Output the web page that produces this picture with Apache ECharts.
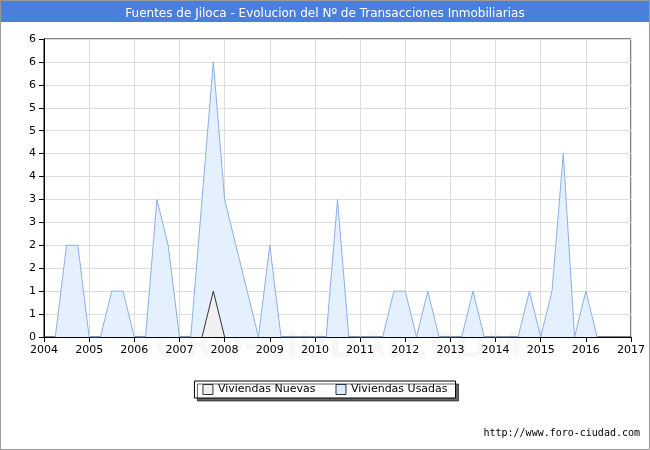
<!DOCTYPE html><html><head><meta charset="utf-8"><script src="https://cdn.jsdelivr.net/npm/echarts@6/dist/echarts.min.js"></script></head><body style="margin:0"><div id="c" style="width:650px;height:450px"></div><script>
const quarters=[2004.25,2004.5,2004.75,2005,2005.25,2005.5,2005.75,2006,2006.25,2006.5,2006.75,2007,2007.25,2007.5,2007.75,2008,2008.25,2008.5,2008.75,2009,2009.25,2009.5,2009.75,2010,2010.25,2010.5,2010.75,2011,2011.25,2011.5,2011.75,2012,2012.25,2012.5,2012.75,2013,2013.25,2013.5,2013.75,2014,2014.25,2014.5,2014.75,2015,2015.25,2015.5,2015.75,2016,2016.25];
const usadas=[0,2,2,0,0,1,1,0,0,3,2,0,0,3,6,3,2,1,0,2,0,0,0,0,0,3,0,0,0,0,1,1,0,1,0,0,0,1,0,0,0,0,1,0,1,4,0,1,0];
const nuevasQ=[2007.5,2007.75,2008];
const nuevas=[0,1,0];
const yLabels=['0','1','1','2','2','3','3','4','4','5','5','6','6','6'];
const c=echarts.init(document.getElementById('c'));
c.setOption({
backgroundColor:'#fff',
title:{text:'Fuentes de Jiloca - Evolucion del Nº de Transacciones Inmobiliarias',left:'center',top:3,textStyle:{color:'#fff',fontSize:12,fontWeight:'normal',fontFamily:'DejaVu Sans'}},
graphic:[{type:'rect',shape:{x:0,y:0,width:650,height:22},style:{fill:'#4a7fdc'},z:-1},
{type:'rect',shape:{x:0.5,y:0.5,width:649,height:449},style:{fill:'none',stroke:'#999'},z:-1},
{type:'text',left:130,top:330,style:{text:'FORO-CIUDAD.COM',fill:'rgba(0,0,0,0.03)',font:'bold 36px DejaVu Sans'}},
{type:'text',right:10,top:428,style:{text:'http://www.foro-ciudad.com',fill:'#000',font:'10px DejaVu Sans Mono'}}],
grid:{left:44,right:19,top:39,bottom:113,show:true,borderColor:'#000',borderWidth:1},
xAxis:{type:'value',min:2004,max:2017,interval:1,axisLine:{lineStyle:{color:'#000'}},axisTick:{show:true,lineStyle:{color:'#000'}},axisLabel:{color:'#000',fontSize:11,fontFamily:'DejaVu Sans',formatter:(v)=>String(v)},splitLine:{lineStyle:{color:'#ddd'}}},
yAxis:{type:'value',min:0,max:6.5,interval:0.5,axisLine:{show:true,lineStyle:{color:'#000'}},axisTick:{show:true,lineStyle:{color:'#000'}},axisLabel:{color:'#000',fontSize:11,fontFamily:'DejaVu Sans',formatter:(v)=>yLabels[Math.round(v*2)]},splitLine:{lineStyle:{color:'#ddd'}}},
legend:{bottom:52,left:'center',itemWidth:10,itemHeight:10,itemGap:20,padding:[3,8],borderColor:'#000',borderWidth:1,shadowColor:'rgba(0,0,0,0.6)',shadowOffsetX:3,shadowOffsetY:3,shadowBlur:0,backgroundColor:'#fff',textStyle:{fontSize:11,color:'#000',fontFamily:'DejaVu Sans'},
data:[{name:'Viviendas Nuevas',icon:'rect',itemStyle:{color:'#f0f0f0',borderColor:'#333',borderWidth:1}},{name:'Viviendas Usadas',icon:'rect',itemStyle:{color:'#dcebfb',borderColor:'#333',borderWidth:1}}]},
series:[
{name:'Viviendas Usadas',type:'line',symbol:'none',data:quarters.map((q,i)=>[q,usadas[i]]),lineStyle:{color:'#8ab0e6',width:1},itemStyle:{color:'#8ab0e6'},areaStyle:{color:'#e4f0fd',opacity:1},z:1},
{name:'Viviendas Nuevas',type:'line',symbol:'none',data:nuevasQ.map((q,i)=>[q,nuevas[i]]),lineStyle:{color:'#333',width:1},itemStyle:{color:'#333'},areaStyle:{color:'#f0f0f0',opacity:1},z:2}
]});
</script></body></html>
